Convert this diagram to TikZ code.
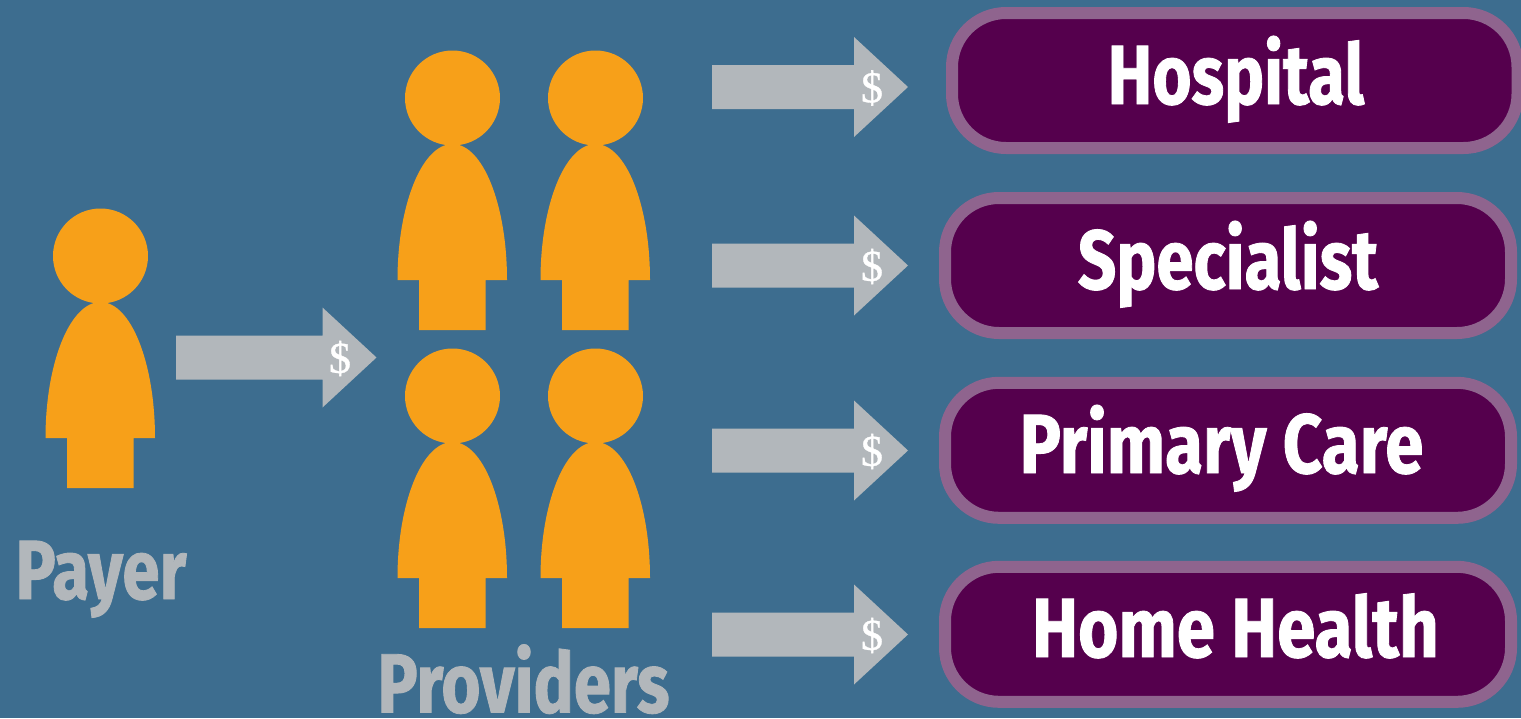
\documentclass[tikz,border=0pt]{standalone}
\usepackage{fontspec}
\newfontfamily\condfont[FakeStretch=0.8,FakeBold=1.0]{Fira Sans Bold}
\newfontfamily\condwidefont[FakeStretch=0.822,FakeBold=1.0]{Fira Sans Bold}
\newfontfamily\dollarfont[FakeBold=0.8]{Liberation Serif}
\definecolor{bgblue}{HTML}{3D6D8F}
\definecolor{personorange}{HTML}{F7A019}
\definecolor{arrowgrey}{HTML}{B2B7BB}
\definecolor{boxpurple}{HTML}{55004D}
\definecolor{boxedge}{HTML}{8F648E}
\tikzset{
  person/.pic={
    \fill[personorange] (100.5,256) circle[radius=47.5];
    \fill[personorange] (45.5,438) .. controls (45.5,363) and (70,302) .. (100.5,302)
      .. controls (131,302) and (155,363) .. (155,438) -- (133.5,438) -- (133.5,488)
      -- (67,488) -- (67,438) -- cycle;
  },
  blockarrow/.pic={
    \fill[arrowgrey] (0,-22) -- (142,-22) -- (142,-50) -- (196,0) -- (142,50)
      -- (142,22) -- (0,22) -- cycle;
    \node[dollarlabel] at (160,1) {\$};
  },
  longarrow/.pic={
    \fill[arrowgrey] (0,-22) -- (146.5,-22) -- (146.5,-50) -- (200.5,0) -- (146.5,50)
      -- (146.5,22) -- (0,22) -- cycle;
    \node[dollarlabel] at (164,1) {\$};
  },
  dollarlabel/.style={text=white,font=\dollarfont\fontsize{44}{44}\selectfont,inner sep=0pt},
  carebox/.style={draw=boxedge,fill=boxpurple,line width=12pt,rounded corners=54pt,
    minimum height=135pt,inner sep=0pt,outer sep=0pt},
  boxlabel/.style={text=white,anchor=base,inner sep=0pt,font=\condfont\fontsize{84}{84}\selectfont},
  widelabel/.style={text=white,anchor=base,inner sep=0pt,font=\condwidefont\fontsize{84}{84}\selectfont},
  greylabel/.style={text=arrowgrey,anchor=base,inner sep=0pt,font=\condfont\fontsize{84}{84}\selectfont},
}
\begin{document}
\begin{tikzpicture}[x=1pt,y=-1pt]
\useasboundingbox (0,0) rectangle (1521,718);
\fill[bgblue] (0,0) rectangle (1521,718);
\pic (payerfig) at (0,0) {person};
\pic (prov1) at (352,-158) {person};
\pic (prov2) at (495,-158) {person};
\pic (prov3) at (352,140) {person};
\pic (prov4) at (495,140) {person};
\pic (arrowpayer) at (176,357.5) {longarrow};
\pic (arrowa) at (712,87) {blockarrow};
\pic (arrowb) at (712,265.5) {blockarrow};
\pic (arrowc) at (712,450.5) {blockarrow};
\pic (arrowd) at (712,634.5) {blockarrow};
\node[carebox,minimum width=565.5pt] (hospitalbox) at (1234.75,80.5) {};
\node[carebox,minimum width=566pt] (specialistbox) at (1228,265.5) {};
\node[carebox,minimum width=566pt] (primarybox) at (1228,450.3) {};
\node[carebox,minimum width=566pt] (homebox) at (1228,634.3) {};
\node[boxlabel] (hospital) at (1236,104) {Hospital};
\node[boxlabel] (specialist) at (1228,289) {Specialist};
\node[widelabel] (primary) at (1221.5,473) {Primary Care};
\node[widelabel] (home) at (1235.5,657) {Home Health};
\node[greylabel] (payer) at (101,599) {Payer};
\node[greylabel] (providers) at (523.5,712.5) {Providers};
\end{tikzpicture}
\end{document}
